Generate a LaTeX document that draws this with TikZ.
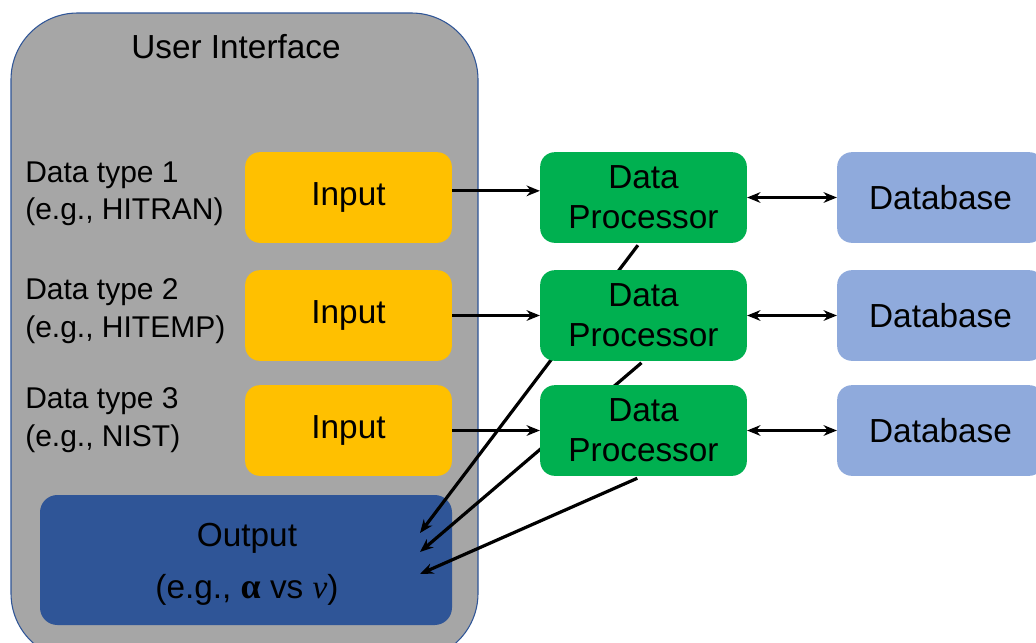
\documentclass[tikz,border=0pt]{standalone}
\usepackage{fontspec}
\setmainfont{Liberation Sans}
\newfontfamily\greekfont{Liberation Serif}
\usetikzlibrary{arrows.meta}

\definecolor{uigray}{HTML}{A6A6A6}
\definecolor{uiblue}{HTML}{2F5597}
\definecolor{inyellow}{HTML}{FFC000}
\definecolor{procgreen}{HTML}{00B050}
\definecolor{dbblue}{HTML}{8FAADC}

\pgfdeclarelayer{ui}
\pgfdeclarelayer{links}
\pgfsetlayers{ui,links,main}

\tikzset{
  box/.style={rounded corners=11pt, minimum width=155pt, minimum height=68pt, inner sep=0pt, align=center, font=\fontsize{25}{30}\selectfont},
  inbox/.style={box, fill=inyellow},
  procbox/.style={box, fill=procgreen},
  dbbox/.style={box, fill=dbblue},
  typelabel/.style={anchor=west, align=left, inner sep=0pt, font=\fontsize{22.5}{28}\selectfont},
  link/.style={line width=2.4pt, -{Stealth[length=10pt,width=8pt]}},
  dlink/.style={line width=2.4pt, {Stealth[length=10pt,width=8pt]}-{Stealth[length=10pt,width=8pt]}}
}

\begin{document}
\begin{tikzpicture}[x=0.75pt,y=0.75pt,yscale=-1,xscale=1]
\useasboundingbox (0,0) rectangle (1036,643);

% processors and databases
\node [procbox] (proc1) at (643.5,197.5) {Data\\Processor};
\node [procbox] (proc2) at (643.5,315.5) {Data\\Processor};
\node [procbox] (proc3) at (643.5,430.5) {Data\\Processor};
\node [dbbox] (db1) at (940.5,197.5) {Database};
\node [dbbox] (db2) at (940.5,315.5) {Database};
\node [dbbox] (db3) at (940.5,430.5) {Database};

% user interface panel
\begin{pgfonlayer}{ui}
\draw [fill=uigray, draw=uiblue, line width=0.8pt, rounded corners=50pt] (11,13) rectangle (478,660);
\node [font=\fontsize{25}{30}\selectfont] (uititle) at (236,47) {User Interface};
\node [inbox] (in1) at (348.5,197.5) {Input};
\node [inbox] (in2) at (348.5,315.5) {Input};
\node [inbox] (in3) at (348.5,430.5) {Input};
\node [typelabel] (type1) at (25,194) {Data type 1\\(e.g., HITRAN)};
\node [typelabel] (type2) at (25,311) {Data type 2\\(e.g., HITEMP)};
\node [typelabel] (type3) at (25,420) {Data type 3\\(e.g., NIST)};
\node [box, rounded corners=13pt, fill=uiblue, minimum width=309pt, minimum height=97.5pt] (out) at (246,560) {};
\node [font=\fontsize{25}{30}\selectfont] (outtitle) at (247,538) {Output};
\node [font=\fontsize{25}{30}\selectfont] (outnote) at (247,590) {(e.g., {\greekfont\bfseries\fontsize{27}{30}\selectfont α} vs {\greekfont\itshape ν})};
\end{pgfonlayer}

% results back to the output
\coordinate (o1) at (420,533);
\coordinate (o2) at (420,552);
\coordinate (o3) at (420,574);
\begin{pgfonlayer}{links}
\draw [link, shorten <=2pt] ([xshift=-3pt]proc1.south) -- (o1);
\draw [link, shorten <=2pt] (proc2.south) -- (o2);
\draw [link, shorten <=4pt] ([xshift=-1pt]proc3.south) -- (o3);
\end{pgfonlayer}

% inputs to processors
\draw [link] ([yshift=-5pt]in1.east) -- ([yshift=-5pt]proc1.west);
\draw [link] (in2.east) -- (proc2.west);
\draw [link] (in3.east) -- (proc3.west);

% processors to databases
\draw [dlink] (proc1.east) -- (db1.west);
\draw [dlink] (proc2.east) -- (db2.west);
\draw [dlink] (proc3.east) -- (db3.west);
\end{tikzpicture}
\end{document}
